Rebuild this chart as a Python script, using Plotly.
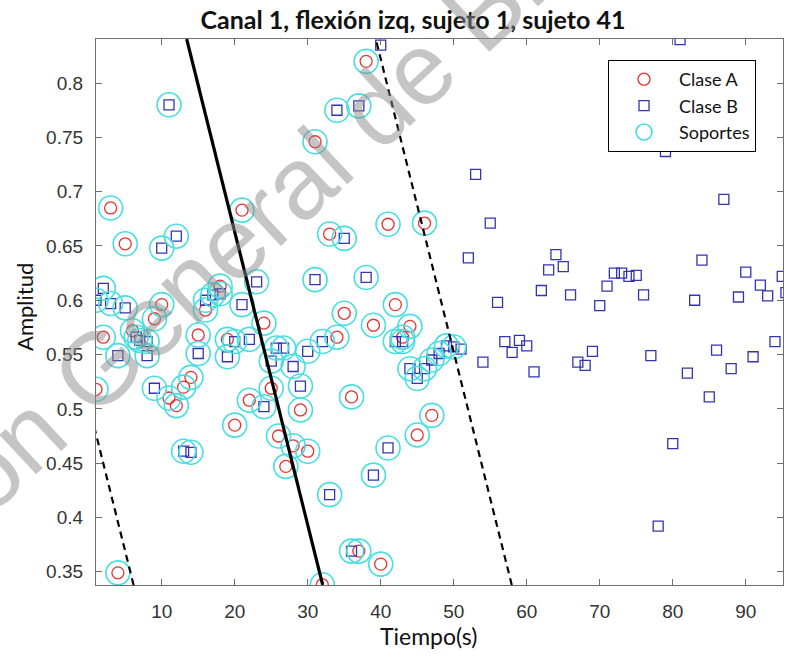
import plotly.graph_objects as go

# ---------------- data ----------------
claseA_x = [3, 5, 21, 38, 31, 41, 46, 33, 35, 42, 39, 44, 34, 43, 36, 29, 47, 45, 28, 30,
            37, 40, 32, 10, 9, 2, 6, 14, 13, 11, 12, 1, 18, 16, 24, 19, 15, 22, 25, 20,
            26, 27, 4]
claseA_y = [0.685, 0.652, 0.683, 0.820, 0.746, 0.670, 0.671, 0.661, 0.588, 0.596,
            0.577, 0.576, 0.566, 0.566, 0.511, 0.499, 0.494, 0.476, 0.466, 0.461,
            0.369, 0.357, 0.338, 0.596, 0.583, 0.566, 0.572, 0.529, 0.520, 0.510,
            0.503, 0.518, 0.613, 0.591, 0.579, 0.564, 0.568, 0.508, 0.519, 0.485,
            0.475, 0.447, 0.349]

# Clase B points that are support vectors
claseB_sv_x = [11, 10, 12, 34, 37, 35, 31, 38, 32, 30, 25.7, 26.7, 28, 29, 42, 43, 44, 45, 46, 47,
               48, 49, 50, 2, 1, 3, 5, 6.5, 7, 8, 4, 8, 9, 16, 17, 18, 21, 23, 20, 22,
               15, 19, 24, 25, 13, 14, 41, 39, 33, 36]
claseB_sv_y = [0.780, 0.648, 0.659, 0.775, 0.779, 0.657, 0.619, 0.621, 0.562, 0.553,
               0.556, 0.556, 0.539, 0.521, 0.562, 0.562, 0.537, 0.528, 0.537, 0.545,
               0.551, 0.558, 0.557, 0.611, 0.600, 0.597, 0.593, 0.566, 0.563, 0.562,
               0.549, 0.549, 0.519, 0.600, 0.605, 0.606, 0.596, 0.617, 0.562, 0.564,
               0.551, 0.548, 0.502, 0.544, 0.461, 0.460, 0.464, 0.439, 0.421, 0.369]

# Clase B points that are not support vectors
claseB_x = [40, 81, 79, 53, 87, 55, 52, 64, 84, 63, 65, 72, 73, 74, 75, 90, 95, 92, 71, 62,
            66, 76, 83, 89, 93, 95.5, 56, 70, 57, 59, 60, 58, 54, 61, 67, 68, 69, 77, 82, 86,
            88, 91, 94, 85, 80, 78, 51]
claseB_y = [0.835, 0.840, 0.737, 0.716, 0.693, 0.671, 0.639, 0.642, 0.637, 0.628,
            0.631, 0.625, 0.625, 0.622, 0.623, 0.626, 0.622, 0.614, 0.613, 0.609,
            0.605, 0.605, 0.600, 0.603, 0.604, 0.607, 0.598, 0.595, 0.562, 0.563,
            0.558, 0.552, 0.543, 0.534, 0.543, 0.540, 0.553, 0.549, 0.533, 0.554,
            0.537, 0.548, 0.562, 0.511, 0.468, 0.392, 0.555]

# separating hyperplane (two points) and margin offset along x
boundary_x = [32.05, 13.42]
boundary_y = [0.3378, 0.8406]
margin_offset = 25.9

x_ticks = [10, 20, 30, 40, 50, 60, 70, 80, 90]
y_ticks = [0.35, 0.40, 0.45, 0.50, 0.55, 0.60, 0.65, 0.70, 0.75, 0.80]
y_tick_labels = ["0.35", "0.4", "0.45", "0.5", "0.55", "0.6", "0.65", "0.7", "0.75", "0.8"]

x_range = [1, 95.1]
y_range = [0.3378, 0.8406]

# ---------------- figure ----------------
RED = "rgb(228,52,52)"
BLUE = "rgb(52,52,178)"
CYAN = "rgb(70,222,226)"

fig = go.Figure()

fig.add_trace(go.Scatter(
    x=claseA_x, y=claseA_y, mode="markers", name="Clase A",
    marker=dict(symbol="circle-open", size=12, color=RED, line=dict(width=1.3, color=RED)),
))
fig.add_trace(go.Scatter(
    x=claseB_sv_x + claseB_x, y=claseB_sv_y + claseB_y, mode="markers", name="Clase B",
    marker=dict(symbol="square-open", size=10, color=BLUE, line=dict(width=1.3, color=BLUE)),
))
fig.add_trace(go.Scatter(
    x=claseA_x + claseB_sv_x, y=claseA_y + claseB_sv_y, mode="markers", name="Soportes",
    marker=dict(symbol="circle-open", size=24, color=CYAN, line=dict(width=1.6, color=CYAN)),
))

# decision boundary and margins
fig.add_trace(go.Scatter(
    x=boundary_x, y=boundary_y, mode="lines", showlegend=False,
    line=dict(color="black", width=3.2), hoverinfo="skip",
))
for sign in (-1, 1):
    fig.add_trace(go.Scatter(
        x=[bx + sign * margin_offset for bx in boundary_x], y=boundary_y,
        mode="lines", showlegend=False,
        line=dict(color="black", width=2.2, dash="7px,5px"), hoverinfo="skip",
    ))

axis_common = dict(
    showgrid=False, zeroline=False, showline=True, linecolor="#6e6e6e", linewidth=1.3,
    mirror="ticks", ticks="inside", ticklen=6, tickwidth=1.1, tickcolor="#6e6e6e",
    tickfont=dict(family="Liberation Sans", size=19, color="#333333"),
)

fig.update_xaxes(range=x_range, tickvals=x_ticks, ticklabelstandoff=9, **axis_common)
fig.update_yaxes(range=y_range, tickvals=y_ticks, ticktext=y_tick_labels,
                 ticklabelstandoff=8, **axis_common)

fig.update_layout(
    width=787, height=657,
    margin=dict(l=96, r=4, t=39, b=72),
    plot_bgcolor="white", paper_bgcolor="white",
    title=dict(text="<b>Canal 1, flexión izq, sujeto 1, sujeto 41</b>",
               x=413 / 787, xanchor="center", y=1 - 20 / 657, yanchor="middle",
               font=dict(family="Lato", size=25, color="#111111")),
    legend=dict(x=0.7453, y=0.9615, xanchor="left", yanchor="top",
                bordercolor="black", borderwidth=1, bgcolor="white",
                font=dict(family="Lato", size=18, color="#111111"),
                itemwidth=60, tracegroupgap=0),
    annotations=[
        dict(text="Tiempo(s)", xref="paper", yref="paper", x=0.4847, y=-0.093,
             xanchor="center", yanchor="middle", showarrow=False,
             font=dict(family="Lato", size=23, color="#111111")),
        dict(text="Amplitud", xref="paper", yref="paper", x=-0.105, y=0.509,
             xanchor="center", yanchor="middle", showarrow=False, textangle=-90,
             font=dict(family="Lato", size=22, color="#111111")),
        dict(text="Dirección General de Bibliotecas", xref="paper", yref="paper",
             x=(279 - 96) / 687, y=(585 - 200) / 546, xanchor="center", yanchor="middle",
             showarrow=False, textangle=-43,
             font=dict(family="Liberation Sans", size=102, color="rgba(140,140,140,0.5)")),
    ],
)

fig.write_html("out.html")
